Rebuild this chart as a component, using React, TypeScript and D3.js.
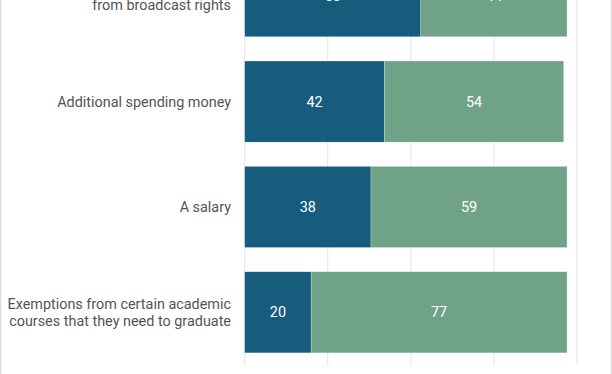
import React from "react";
import * as d3 from "d3";

const categories: string[][] = [
  ["A share of the revenue", "from broadcast rights"],
  ["Additional spending money"],
  ["A salary"],
  ["Exemptions from certain academic", "courses that they need to graduate"],
];
const seriesA: number[] = [53, 42, 38, 20];
const seriesB: number[] = [44, 54, 59, 77];
const ticks: number[] = [0, 25, 50, 75, 100];

const W = 612;
const H = 374;
const colorA = "#175c7c";
const colorB = "#6fa287";

export default function App() {
  const keys = categories.map((_, i) => String(i));
  const x = d3.scaleLinear().domain([0, 100]).range([244.7, 577]);
  const y = d3
    .scaleBand<string>()
    .domain(keys)
    .range([-56.5, 365])
    .paddingInner(0.23)
    .paddingOuter(0.115);
  const bw = y.bandwidth();
  const font = "Roboto, 'Noto Sans', sans-serif";
  return (
    <svg
      width={W}
      height={H}
      style={{ position: "absolute", left: 0, top: 0, background: "#fff" }}
    >
      <line x1={0.5} x2={0.5} y1={0} y2={H} stroke="#dcdcdc" strokeWidth={1.5} />
      <line x1={611.3} x2={611.3} y1={0} y2={H} stroke="#dcdcdc" strokeWidth={1.5} />
      {ticks.map((t) => (
        <line
          key={t}
          x1={x(t)}
          x2={x(t)}
          y1={-60}
          y2={365}
          stroke="#e3e3e3"
          strokeWidth={1}
        />
      ))}
      {keys.map((k, i) => {
        const y0 = y(k)!;
        const cy = y0 + bw / 2;
        const a = seriesA[i];
        const b = seriesB[i];
        const lines = categories[i];
        const lh = 17;
        return (
          <g key={k}>
            <rect
              x={x(0)}
              y={y0}
              width={x(a) - x(0)}
              height={bw}
              fill={colorA}
              stroke="#fff"
              strokeOpacity={0.5}
              strokeWidth={0.5}
            />
            <rect
              x={x(a)}
              y={y0}
              width={x(a + b) - x(a)}
              height={bw}
              fill={colorB}
              stroke="#fff"
              strokeOpacity={0.5}
              strokeWidth={0.5}
            />
            <text
              x={(x(0) + x(a)) / 2}
              y={cy}
              dy="0.35em"
              textAnchor="middle"
              fill="#fff"
              fontFamily={font}
              fontSize={14.4}
            >
              {a}
            </text>
            <text
              x={(x(a) + x(a + b)) / 2}
              y={cy}
              dy="0.35em"
              textAnchor="middle"
              fill="#fff"
              fontFamily={font}
              fontSize={14.4}
            >
              {b}
            </text>
            {lines.map((ln, j) => (
              <text
                key={j}
                x={231}
                y={cy + (j - (lines.length - 1) / 2) * lh}
                dy="0.35em"
                textAnchor="end"
                fill="#555"
                fontFamily={font}
                fontSize={14.4}
              >
                {ln}
              </text>
            ))}
          </g>
        );
      })}
    </svg>
  );
}
